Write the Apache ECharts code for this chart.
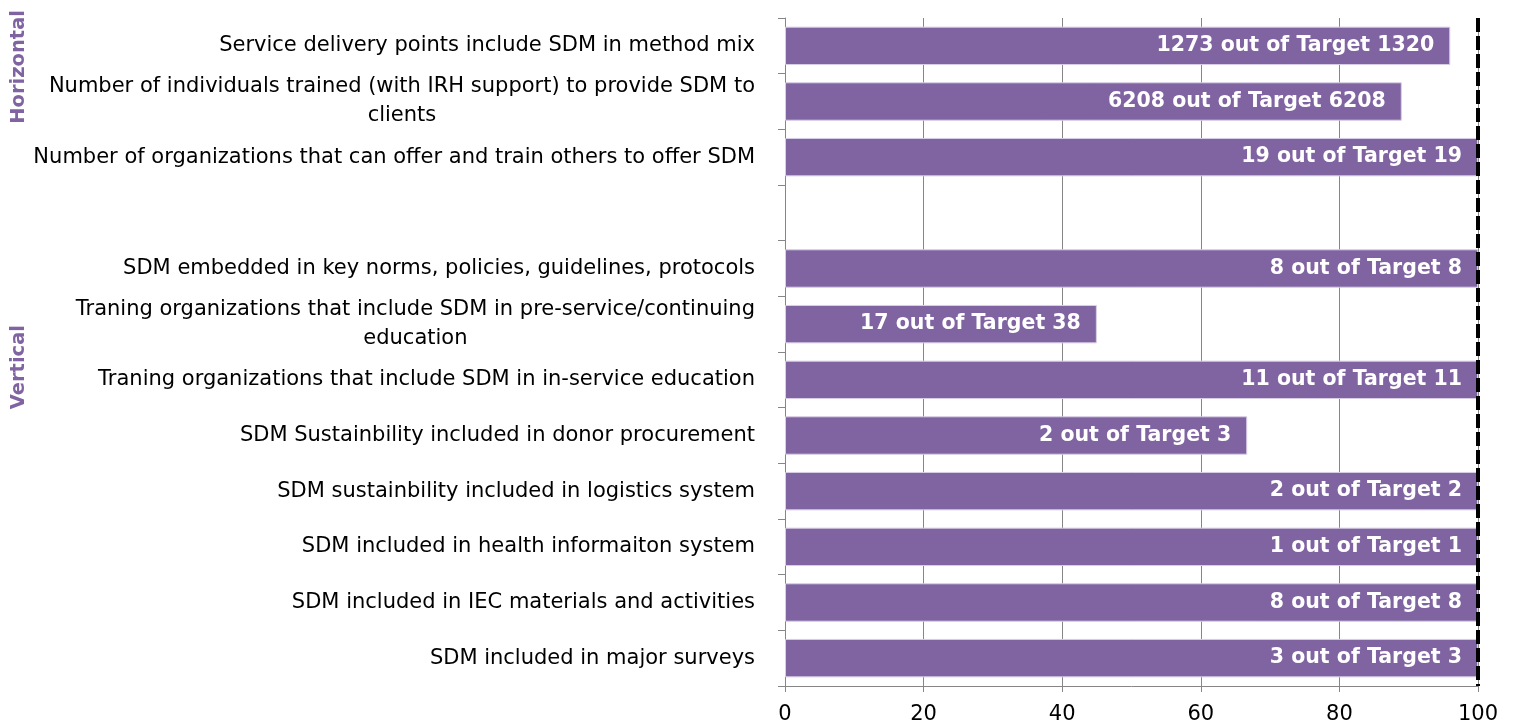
<!DOCTYPE html>
<html>
<head>
<meta charset="utf-8">
<script src="https://cdn.jsdelivr.net/npm/echarts@6/dist/echarts.min.js"></script>
<style>html,body{margin:0;padding:0;background:#fff;}#c{width:1515px;height:727px;}</style>
</head>
<body>
<div id="c"></div>
<script>
const categories = [
  'Service delivery points include SDM in method mix',
  'Number of individuals trained (with IRH support) to provide SDM to\nclients',
  'Number of organizations that can offer and train others to offer SDM',
  '',
  'SDM embedded in key norms, policies, guidelines, protocols',
  'Traning organizations that include SDM in pre-service/continuing\neducation',
  'Traning organizations that include SDM in in-service education',
  'SDM Sustainbility included in donor procurement',
  'SDM sustainbility included in logistics system',
  'SDM included in health informaiton system',
  'SDM included in IEC materials and activities',
  'SDM included in major surveys'
];
const percentValues = [96, 89, 100, null, 100, 45, 100, 66.7, 100, 100, 100, 100];
const barLabels = [
  '1273 out of Target 1320',
  '6208 out of Target 6208',
  '19 out of Target 19',
  '',
  '8 out of Target 8',
  '17 out of Target 38',
  '11 out of Target 11',
  '2 out of Target 3',
  '2 out of Target 2',
  '1 out of Target 1',
  '8 out of Target 8',
  '3 out of Target 3'
];
const xTicks = [0, 20, 40, 60, 80, 100];
const targetLine = 100;
const groupLabels = ['Horizontal', 'Vertical'];

const FONT = 'DejaVu Sans';
const PURPLE = '#8064A2';

const chart = echarts.init(document.getElementById('c'), null, {renderer: 'canvas'});
chart.setOption({
  animation: false,
  backgroundColor: '#ffffff',
  textStyle: {fontFamily: FONT},
  grid: {left: 785, right: 37, top: 18, bottom: 41, containLabel: false},
  xAxis: {
    type: 'value',
    min: xTicks[0],
    max: xTicks[xTicks.length - 1],
    interval: xTicks[1] - xTicks[0],
    axisLine: {show: true, lineStyle: {color: '#868686', width: 1}},
    axisTick: {show: true, length: 6, lineStyle: {color: '#868686'}},
    splitLine: {show: true, lineStyle: {color: '#868686', width: 1}},
    axisLabel: {color: '#000', fontSize: 21, fontFamily: FONT, margin: 18}
  },
  yAxis: {
    type: 'category',
    inverse: true,
    data: categories,
    axisLine: {show: true, lineStyle: {color: '#868686', width: 1}},
    axisTick: {show: true, length: 7, alignWithLabel: false, lineStyle: {color: '#868686'}},
    splitLine: {show: false},
    axisLabel: {
      color: '#000',
      fontSize: 21,
      fontFamily: FONT,
      margin: 30,
      lineHeight: 29,
      formatter: function (v) {
        if (!v) return '';
        return v.split('\n').map(function (s) { return '{c|' + s + '}'; }).join('\n');
      },
      rich: {c: {align: 'center', fontSize: 21, fontFamily: FONT, color: '#000', lineHeight: 29}}
    }
  },
  series: [{
    type: 'bar',
    data: percentValues,
    barCategoryGap: '31%',
    itemStyle: {color: PURPLE, borderColor: '#d8cfe6', borderWidth: 1},
    label: {
      show: true,
      position: 'insideRight',
      distance: 16,
      color: '#fff',
      fontWeight: 'bold',
      fontSize: 20.5,
      fontFamily: FONT,
      formatter: function (p) { return barLabels[p.dataIndex]; }
    },
    markLine: {
      silent: true,
      symbol: 'none',
      label: {show: false},
      lineStyle: {color: '#000', type: [14, 4], width: 4},
      data: [{xAxis: targetLine}]
    }
  }],
  graphic: [
    {type: 'text', left: 9, top: 10, rotation: Math.PI / 2,
     style: {text: groupLabels[0], fill: PURPLE, font: 'bold 19.5px ' + FONT}},
    {type: 'text', left: 9, top: 325, rotation: Math.PI / 2,
     style: {text: groupLabels[1], fill: PURPLE, font: 'bold 19.5px ' + FONT}}
  ]
});
</script>
</body>
</html>
